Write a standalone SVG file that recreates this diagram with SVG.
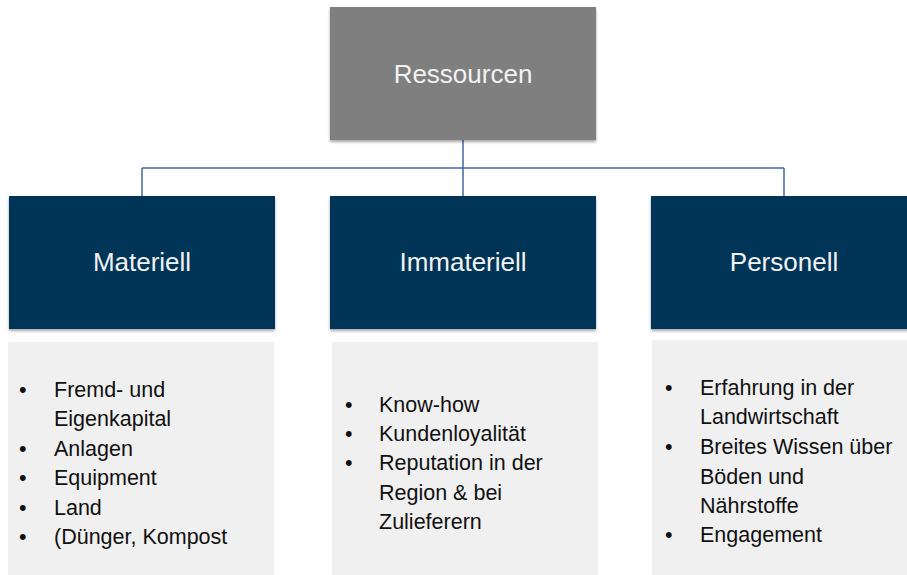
<svg xmlns="http://www.w3.org/2000/svg" width="907" height="575" viewBox="0 0 907 575">
<style>
.title{font-family:"Liberation Sans",Arial,sans-serif;font-size:26px;fill:#f2f2f2;text-anchor:middle}
.head{fill:#033659}
.body{fill:#f0f0f0}
.li{font-family:"Liberation Sans",Arial,sans-serif;font-size:21.5px;fill:#111}
.conn{stroke:#3f6aa0;stroke-width:1.5;fill:none}
</style>
<defs>
<filter id="sh" x="-5%" y="-5%" width="110%" height="115%">
<feDropShadow dx="0" dy="2" stdDeviation="1.5" flood-color="#000" flood-opacity="0.35"/>
</filter>
</defs>
<rect width="907" height="575" fill="#ffffff"/>
<g id="connectors">
<path class="conn" d="M463,140 V196"/>
<path class="conn" d="M142,168 H784"/>
<path class="conn" d="M142,168 V196"/>
<path class="conn" d="M784,168 V196"/>
</g>
<g id="ressourcen">
<rect x="330" y="7" width="266" height="133" fill="#7f7f7f" filter="url(#sh)"/>
<text class="title" x="463" y="83">Ressourcen</text>
</g>
<g id="materiell">
<rect class="head" x="9" y="196" width="266" height="133" filter="url(#sh)"/>
<text class="title" x="142" y="271">Materiell</text>
</g>
<g id="immateriell">
<rect class="head" x="330" y="196" width="266" height="133" filter="url(#sh)"/>
<text class="title" x="463" y="271">Immateriell</text>
</g>
<g id="personell">
<rect class="head" x="651" y="196" width="266" height="133" filter="url(#sh)"/>
<text class="title" x="784" y="271">Personell</text>
</g>
<g id="materiell-list">
<rect class="body" x="8" y="342" width="266" height="233"/>
<text class="li"><tspan x="19" y="397">•</tspan><tspan x="54" y="397">Fremd- und</tspan>
<tspan x="54" y="426">Eigenkapital</tspan>
<tspan x="19" y="456">•</tspan><tspan x="54" y="456">Anlagen</tspan>
<tspan x="19" y="485">•</tspan><tspan x="54" y="485">Equipment</tspan>
<tspan x="19" y="515">•</tspan><tspan x="54" y="515">Land</tspan>
<tspan x="19" y="544">•</tspan><tspan x="54" y="544">(Dünger, Kompost</tspan></text>
</g>
<g id="immateriell-list">
<rect class="body" x="332" y="342" width="266" height="233"/>
<text class="li"><tspan x="345" y="412">•</tspan><tspan x="379" y="412">Know-how</tspan>
<tspan x="345" y="441">•</tspan><tspan x="379" y="441">Kundenloyalität</tspan>
<tspan x="345" y="470">•</tspan><tspan x="379" y="470">Reputation in der</tspan>
<tspan x="379" y="500">Region &amp; bei</tspan>
<tspan x="379" y="529">Zulieferern</tspan></text>
</g>
<g id="personell-list">
<rect class="body" x="652" y="340" width="255" height="235"/>
<text class="li"><tspan x="665" y="395">•</tspan><tspan x="700" y="395">Erfahrung in der</tspan>
<tspan x="700" y="424">Landwirtschaft</tspan>
<tspan x="665" y="454">•</tspan><tspan x="700" y="454">Breites Wissen über</tspan>
<tspan x="700" y="484">Böden und</tspan>
<tspan x="700" y="513">Nährstoffe</tspan>
<tspan x="665" y="542">•</tspan><tspan x="700" y="542">Engagement</tspan></text>
</g>
</svg>
